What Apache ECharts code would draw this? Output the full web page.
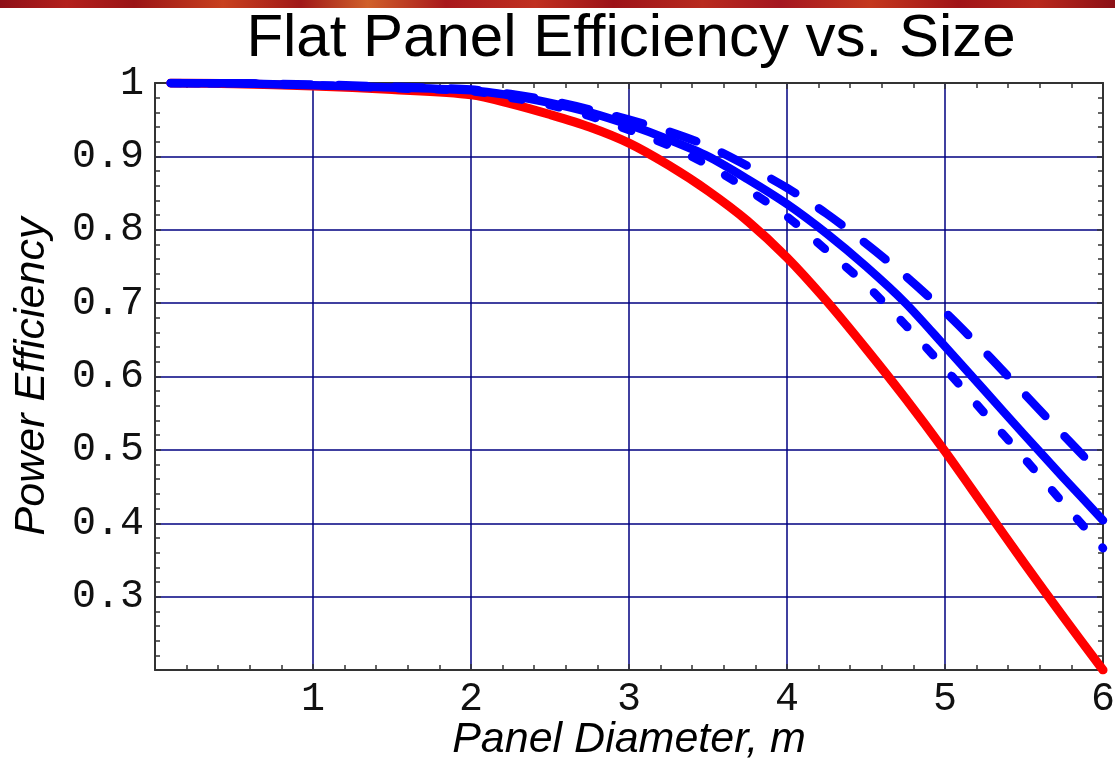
<!DOCTYPE html>
<html>
<head>
<meta charset="utf-8">
<title>Flat Panel Efficiency vs. Size</title>
<script src="https://cdn.jsdelivr.net/npm/echarts@6/dist/echarts.min.js"></script>
<style>
  html, body { margin: 0; padding: 0; background: #ffffff; }
  #chart { width: 1115px; height: 759px; }
</style>
</head>
<body>
<div id="chart"></div>
<script>
// Panel diameter samples (m)
const diameters = [0.1, 0.5, 1, 1.5, 2, 2.25, 2.5, 2.75, 3, 3.25, 3.5, 3.75, 4, 4.25, 4.5, 4.75, 5, 5.25, 5.5, 5.75, 6];

// Power efficiency curves
const redSolid   = [1.000, 0.999, 0.996, 0.991, 0.984, 0.972, 0.957, 0.940, 0.918, 0.888, 0.853, 0.812, 0.762, 0.703, 0.638, 0.570, 0.498, 0.422, 0.346, 0.272, 0.200];
const blueSolid  = [1.000, 0.9995, 0.997, 0.994, 0.990, 0.983, 0.973, 0.960, 0.943, 0.923, 0.900, 0.869, 0.835, 0.795, 0.750, 0.700, 0.641, 0.581, 0.521, 0.462, 0.404];
const blueLong   = [1.000, 0.9995, 0.998, 0.995, 0.991, 0.985, 0.976, 0.964, 0.950, 0.934, 0.914, 0.887, 0.857, 0.822, 0.781, 0.737, 0.688, 0.634, 0.577, 0.520, 0.464];
const blueShort  = [1.000, 0.9995, 0.997, 0.993, 0.989, 0.980, 0.970, 0.955, 0.936, 0.915, 0.888, 0.855, 0.818, 0.772, 0.725, 0.670, 0.611, 0.550, 0.489, 0.427, 0.366];

// Axis ranges and tick steps
const xRange = [0, 6];
const xStep = 1;
const yRange = [0.2, 1];
const yStep = 0.1;

const titleText = 'Flat Panel Efficiency vs. Size';
const xName = 'Panel Diameter, m';
const yName = 'Power Efficiency';

const pair = (ys) => diameters.map((d, i) => [d, ys[i]]);

const frameColor = '#333333';
const gridColor = '#000080';
const monoFont = '"Liberation Mono", "DejaVu Sans Mono", monospace';
const sansFont = '"Liberation Sans", Arial, sans-serif';

function frameAxis(extra) {
  return Object.assign({
    type: 'value',
    axisLine: { show: true, onZero: false, lineStyle: { color: frameColor, width: 2 } },
    axisTick: { show: true, inside: true, length: 6, lineStyle: { color: frameColor, width: 1.5 } },
    minorTick: { show: true, splitNumber: 5, length: 5, lineStyle: { color: frameColor, width: 1.5 } },
    splitLine: { show: false },
    axisLabel: { show: false }
  }, extra);
}

const chart = echarts.init(document.getElementById('chart'), null, { renderer: 'canvas' });

chart.setOption({
  animation: false,
  backgroundColor: '#ffffff',
  title: {
    text: titleText,
    left: 626,
    top: 4,
    textAlign: 'center',
    textStyle: { fontFamily: sansFont, fontSize: 60, fontWeight: 'normal', color: '#000000' }
  },
  graphic: [{
    type: 'rect',
    left: 0, top: 0, z: -1,
    shape: { width: 1115, height: 8 },
    style: {
      fill: new echarts.graphic.LinearGradient(0, 0, 1, 0, [
        { offset: 0.00, color: '#8e1018' },
        { offset: 0.06, color: '#b3201c' },
        { offset: 0.12, color: '#9a1416' },
        { offset: 0.20, color: '#c8401e' },
        { offset: 0.27, color: '#a01818' },
        { offset: 0.33, color: '#d0602a' },
        { offset: 0.40, color: '#a8181c' },
        { offset: 0.48, color: '#c03020' },
        { offset: 0.55, color: '#9c1218' },
        { offset: 0.63, color: '#b82a1e' },
        { offset: 0.70, color: '#a41620' },
        { offset: 0.78, color: '#c4381e' },
        { offset: 0.86, color: '#a01418' },
        { offset: 0.93, color: '#b8281c' },
        { offset: 1.00, color: '#8c1016' }
      ])
    }
  }],
  grid: {
    left: 155, right: 12, top: 83, bottom: 89,
    containLabel: false,
    outerBoundsMode: 'none'
  },
  xAxis: [
    frameAxis({
      position: 'bottom',
      min: xRange[0], max: xRange[1], interval: xStep,
      splitLine: { show: true, lineStyle: { color: gridColor, width: 1.5 } },
      axisLabel: {
        show: true, margin: 9, showMinLabel: true, showMaxLabel: true,
        fontFamily: monoFont, fontSize: 40, color: '#111111',
        formatter: (v) => (v === 0 ? '' : String(v))
      },
      name: xName,
      nameLocation: 'middle',
      nameGap: 49,
      nameMoveOverlap: false,
      nameTextStyle: { fontFamily: sansFont, fontStyle: 'italic', fontSize: 43, color: '#000000' }
    }),
    frameAxis({
      position: 'top',
      min: xRange[0], max: xRange[1], interval: xStep
    })
  ],
  yAxis: [
    frameAxis({
      position: 'left',
      min: yRange[0], max: yRange[1], interval: yStep,
      splitLine: { show: true, lineStyle: { color: gridColor, width: 1.5 } },
      axisLabel: {
        show: true, margin: 11, showMinLabel: true, showMaxLabel: true,
        fontFamily: monoFont, fontSize: 40, color: '#111111',
        formatter: (v) => {
          if (Math.abs(v - 0.2) < 1e-6) return '';
          if (Math.abs(v - 1) < 1e-6) return '1';
          return v.toFixed(1);
        }
      },
      name: yName,
      nameLocation: 'middle',
      nameGap: 101,
      nameMoveOverlap: false,
      nameTextStyle: { fontFamily: sansFont, fontStyle: 'italic', fontSize: 43, color: '#000000' }
    }),
    frameAxis({
      position: 'right',
      min: yRange[0], max: yRange[1], interval: yStep
    })
  ],
  series: [
    {
      name: 'red', type: 'line', data: pair(redSolid),
      showSymbol: false, symbol: 'none', smooth: 0.3,
      lineStyle: { color: '#ff0000', width: 9, cap: 'round', join: 'round' },
      z: 2
    },
    {
      name: 'blue', type: 'line', data: pair(blueSolid),
      showSymbol: false, symbol: 'none', smooth: 0.3,
      lineStyle: { color: '#0000ff', width: 8.5, cap: 'round', join: 'round' },
      z: 3
    },
    {
      name: 'blue long dash', type: 'line', data: pair(blueLong),
      showSymbol: false, symbol: 'none', smooth: 0.3,
      lineStyle: { color: '#0000ff', width: 8.5, type: [28, 28], cap: 'round', join: 'round' },
      z: 3
    },
    {
      name: 'blue short dash', type: 'line', data: pair(blueShort),
      showSymbol: false, symbol: 'none', smooth: 0.3,
      lineStyle: { color: '#0000ff', width: 8.5, type: [10, 28], cap: 'round', join: 'round' },
      z: 3
    }
  ]
});
</script>
</body>
</html>
